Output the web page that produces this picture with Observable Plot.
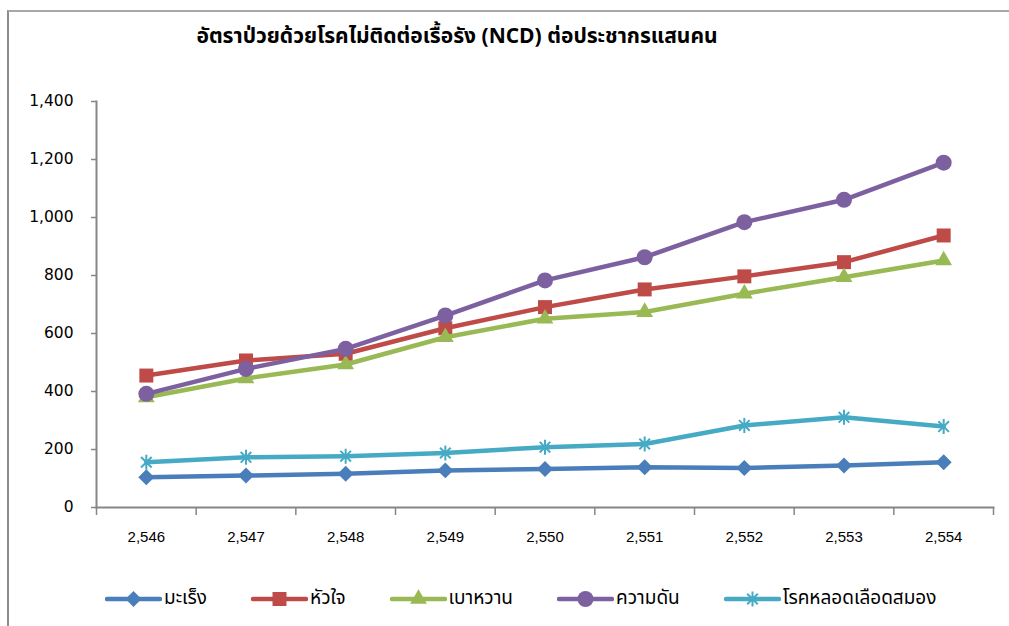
<!DOCTYPE html>
<html>
<head>
<meta charset="utf-8">
<script src="https://cdn.jsdelivr.net/npm/d3@7"></script>
<script src="https://cdn.jsdelivr.net/npm/@observablehq/plot@0.6"></script>
<style>
  html, body { margin: 0; padding: 0; background: #fff; width: 1009px; height: 626px; overflow: hidden; }
  #frame { position: absolute; left: 7px; top: 10px; width: 1010px; height: 630px; border-left: 2px solid #8c8c8c; border-top: 2px solid #a8a8a8; }
  #title { position: absolute; top: 21px; left: 0; width: 914px; text-align: center; font-family: Tahoma, "Noto Sans Thai", "Noto Sans", sans-serif; font-weight: bold; font-size: 21px; color: #000; }
  #chart { position: absolute; left: 0; top: 70px; }
  #legend { position: absolute; top: 584px; left: 105px; display: flex; gap: 44px; align-items: center; font-family: Tahoma, "Noto Sans Thai", "Noto Sans", sans-serif; font-size: 19px; color: #000; }
  .item { display: flex; align-items: center; gap: 2px; }
</style>
</head>
<body>
<div id="frame"></div>
<div id="title">อัตราป่วยด้วยโรคไม่ติดต่อเรื้อรัง (NCD) ต่อประชากรแสนคน</div>
<div id="chart"></div>
<div id="legend"></div>
<script>
const years = [2546, 2547, 2548, 2549, 2550, 2551, 2552, 2553, 2554];
const seriesNames = ["มะเร็ง", "หัวใจ", "เบาหวาน", "ความดัน", "โรคหลอดเลือดสมอง"];
const cancer       = [104, 110, 116, 128, 133, 139, 136, 145, 156];
const heart        = [455, 507, 530, 618, 691, 752, 797, 846, 938];
const diabetes     = [380, 445, 493, 587, 651, 674, 737, 794, 852];
const hypertension = [392, 478, 547, 662, 783, 863, 984, 1061, 1189];
const stroke       = [156, 173, 177, 188, 208, 219, 283, 311, 279];
const yTicks = [0, 200, 400, 600, 800, 1000, 1200, 1400];

const seriesValues = [cancer, heart, diabetes, hypertension, stroke];
const colors = ["#4a7ebb", "#be4b48", "#98b954", "#7d60a0", "#46aac5"];

// Excel-style star marker: vertical stroke plus an X
const star = {
  draw(context, size) {
    const r = Math.sqrt(size / Math.PI);
    const d = r * Math.SQRT1_2;
    context.moveTo(0, -r); context.lineTo(0, r);
    context.moveTo(-d, -d); context.lineTo(d, d);
    context.moveTo(-d, d); context.lineTo(d, -d);
  }
};
const symbols = [d3.symbolDiamond2, d3.symbolSquare2, d3.symbolTriangle2, d3.symbolCircle, star];
const stroked = [false, false, false, false, true];
const radii = [7.2, 8.9, 8, 8, 7.5];

const table = seriesNames.flatMap((name, s) =>
  years.map((year, i) => ({series: name, year, value: seriesValues[s][i]})));

const bounds = [...years.map(y => y - 0.5), years[years.length - 1] + 0.5];
const axisColor = "#868686";

const marks = [
  Plot.axisY(yTicks, {tickSize: 5, tickPadding: 18, tickFormat: d3.format(","), stroke: axisColor, strokeWidth: 1.5, fontSize: 15.5}),
  Plot.axisX(bounds, {tickSize: 8, tickFormat: () => "", stroke: axisColor, strokeWidth: 1.5}),
  Plot.axisX(years, {tickSize: 0, tickPadding: 24, tickFormat: d3.format(","), fontFamily: "'Liberation Sans Narrow', 'Liberation Sans', sans-serif", fontSize: 15}),
  Plot.frame({anchor: "left", stroke: axisColor, strokeWidth: 2}),
  Plot.frame({anchor: "bottom", stroke: axisColor, strokeWidth: 2})
];

seriesNames.forEach((name, s) => {
  const d = table.filter(r => r.series === name);
  marks.push(Plot.line(d, {x: "year", y: "value", stroke: colors[s], strokeWidth: 4.5, strokeLinejoin: "round"}));
  if (stroked[s]) {
    marks.push(Plot.dot(d, {x: "year", y: "value", symbol: symbols[s], r: radii[s], stroke: colors[s], strokeWidth: 2, fill: "none"}));
  } else {
    marks.push(Plot.dot(d, {x: "year", y: "value", symbol: symbols[s], r: radii[s], fill: colors[s], stroke: "none"}));
  }
});

const chart = Plot.plot({
  width: 1009,
  height: 490,
  marginLeft: 96,
  marginRight: 16,
  marginTop: 31,
  marginBottom: 53,
  style: {fontFamily: "'DejaVu Sans', Verdana, sans-serif", fontSize: "15px", color: "#000", background: "transparent"},
  x: {domain: [bounds[0], bounds[bounds.length - 1]], label: null},
  y: {domain: [0, 1400], label: null},
  marks
});
document.getElementById("chart").appendChild(chart);

// legend
const legend = document.getElementById("legend");
seriesNames.forEach((name, s) => {
  const item = document.createElement("div");
  item.className = "item";
  const svg = d3.create("svg").attr("width", 57).attr("height", 20);
  svg.append("line").attr("x1", 2).attr("x2", 55).attr("y1", 10).attr("y2", 10)
    .attr("stroke", colors[s]).attr("stroke-width", 4.5).attr("stroke-linecap", "round");
  const path = d3.symbol(symbols[s], Math.PI * radii[s] * radii[s])();
  const p = svg.append("path").attr("d", path).attr("transform", "translate(28.5,10)");
  if (stroked[s]) p.attr("stroke", colors[s]).attr("stroke-width", 2).attr("fill", "none");
  else p.attr("fill", colors[s]);
  item.appendChild(svg.node());
  const label = document.createElement("span");
  label.textContent = name;
  item.appendChild(label);
  legend.appendChild(item);
});
</script>
</body>
</html>
